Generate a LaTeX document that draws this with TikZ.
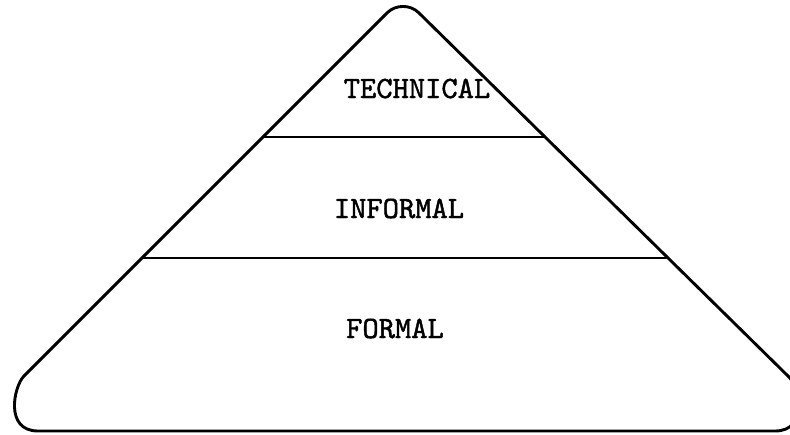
\documentclass[tikz,border=0pt]{standalone}
\usepackage{fontspec}
\newfontfamily\typewr{lmmono10-regular.otf}[FakeBold=1.4]
\begin{document}
\begin{tikzpicture}[x=1pt,y=-1pt,
  outline/.style={line width=2.9pt, line join=round, line cap=round},
  lbl/.style={font=\fontsize{31}{31}\selectfont\typewr, inner sep=0pt, anchor=base}]
\useasboundingbox (0,0) rectangle (790,434);
\clip (0,0) rectangle (790,434);
% corner points of the pyramid
\coordinate (bl) at (38,431);
\coordinate (ls) at (24,376);
\coordinate (al) at (387.4,12.6);
\coordinate (ar) at (418.6,12.6);
\coordinate (rs) at (789,377);
\coordinate (br) at (775,431);
\draw[outline] (bl) .. controls (4,431) and (14,386) .. (ls)
  -- (al) .. controls (395.6,4.4) and (410.4,4.4) .. (ar)
  -- (rs) .. controls (799,387) and (809,431) .. (br) -- cycle;
% dividing lines
\coordinate (t1) at (263,137);
\coordinate (t2) at (544,137);
\coordinate (m1) at (142,258);
\coordinate (m2) at (666,258);
\draw[outline] (t1) -- (t2);
\draw[outline] (m1) -- (m2);
% labels
\node[lbl] (tech) at (417,98) {TECHNICAL};
\node[lbl] (inf) at (399,218) {INFORMAL};
\node[lbl] (form) at (395,338) {FORMAL};
\end{tikzpicture}
\end{document}
